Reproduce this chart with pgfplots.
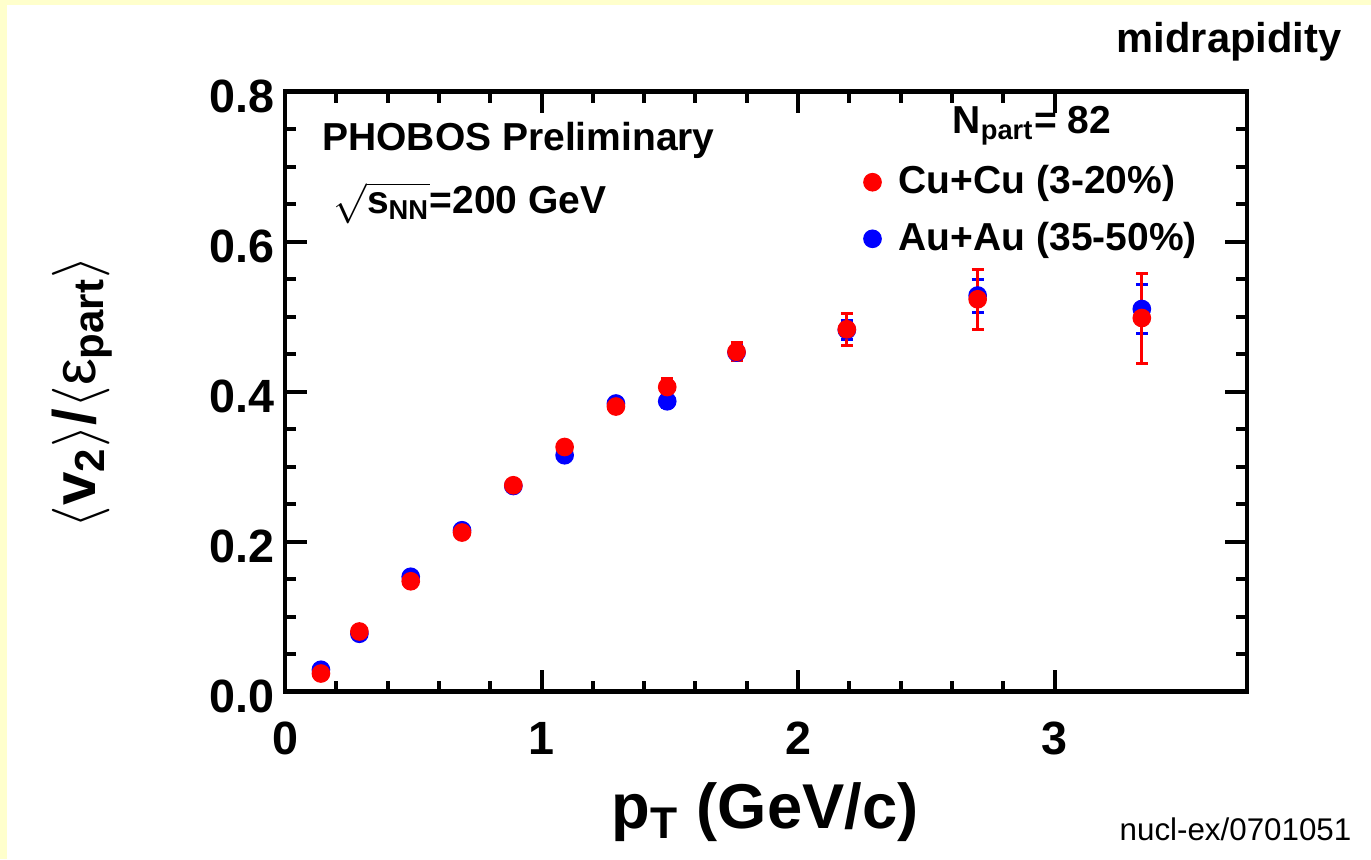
\documentclass[border=0pt]{standalone}
\usepackage{pgfplots}
\pgfplotsset{compat=1.18}
\usepackage{fontspec}
\setmainfont{Liberation Sans}
\definecolor{bgyellow}{RGB}{255,255,204}
\definecolor{pred}{RGB}{255,0,0}
\definecolor{pblue}{RGB}{0,0,255}
\begin{document}
\begin{tikzpicture}
\useasboundingbox (0,0) rectangle (411.3pt,257.7pt);
\fill[bgyellow] (0,0) rectangle (411.3pt,257.7pt);
\fill[white] (2.1pt,0) rectangle (411.3pt,256.2pt);
\begin{axis}[
  at={(85.5pt,50.25pt)}, anchor=south west,
  scale only axis, width=288.6pt, height=180pt,
  xmin=0, xmax=3.75, ymin=0, ymax=0.8,
  xtick={0,1,2,3}, xticklabels={0,1,2,3},
  ytick={0,0.2,0.4,0.6,0.8},
  yticklabel style={/pgf/number format/fixed, /pgf/number format/fixed zerofill, /pgf/number format/precision=1, inner sep=0pt, xshift=-3pt, yshift=-1.5pt},
  xticklabel style={inner sep=0pt, yshift=-9pt},
  /pgf/number format/assume math mode=true,
  ticklabel style={font=\bfseries\fontsize{14}{16}\selectfont},
  minor x tick num=4, minor y tick num=3,
  tick align=inside, tick pos=both,
  major tick length=6.5pt, minor tick length=3.3pt,
  every tick/.style={black, line width=1.2pt},
  axis line style={line width=1.4pt},
  clip=false,
  reverse legend,
  legend cell align=left,
  legend style={at={(0.601,0.8017)}, anchor=west, draw=none, fill=none, inner sep=0pt,
    font=\bfseries\fontsize{11.7}{13}\selectfont, row sep=7pt, column sep=5.3pt,
    nodes={inner sep=0pt}},
  legend image code/.code={\draw[mark repeat=2,mark phase=2,#1] plot coordinates {(-2pt,0pt) (0pt,0pt) (2pt,0pt)};},
]
\addplot[only marks, mark=*, mark size=2.6pt, color=pblue,
  error bars/.cd, y dir=both, y explicit,
  error bar style={line width=0.9pt}, error mark options={rotate=90, line width=0.9pt, mark size=1.8pt}]
  coordinates {
  (0.14,0.029) +- (0,0.004)
  (0.29,0.077) +- (0,0.004)
  (0.49,0.153) +- (0,0.005)
  (0.69,0.215) +- (0,0.005)
  (0.89,0.274) +- (0,0.006)
  (1.09,0.315) +- (0,0.006)
  (1.29,0.384) +- (0,0.007)
  (1.49,0.387) +- (0,0.008)
  (1.76,0.452) +- (0,0.010)
  (2.19,0.482) +- (0,0.013)
  (2.70,0.528) +- (0,0.022)
  (3.34,0.510) +- (0,0.033)
  };
\addlegendentry{Au+Au (35-50\%)}
\addplot[only marks, mark=*, mark size=2.6pt, color=pred,
  error bars/.cd, y dir=both, y explicit,
  error bar style={line width=0.9pt}, error mark options={rotate=90, line width=0.9pt, mark size=1.8pt}]
  coordinates {
  (0.14,0.024) +- (0,0.004)
  (0.29,0.080) +- (0,0.004)
  (0.49,0.147) +- (0,0.005)
  (0.69,0.212) +- (0,0.005)
  (0.89,0.275) +- (0,0.006)
  (1.09,0.326) +- (0,0.007)
  (1.29,0.380) +- (0,0.008)
  (1.49,0.406) +- (0,0.012)
  (1.76,0.453) +- (0,0.012)
  (2.19,0.483) +- (0,0.021)
  (2.70,0.523) +- (0,0.040)
  (3.34,0.498) +- (0,0.060)
  };
\addlegendentry{Cu+Cu (3-20\%)}
\end{axis}
\node[anchor=base east, inner sep=0pt, font=\bfseries\fontsize{12.5}{14}\selectfont] at (402.6pt,241.8pt) {midrapidity};
\node[anchor=base east, inner sep=0pt, font=\fontsize{9.4}{11}\selectfont] at (405.6pt,5.7pt) {nucl-ex/0701051};
\node[anchor=base west, inner sep=0pt, font=\bfseries\fontsize{11.7}{13}\selectfont] at (96.5pt,212.7pt) {PHOBOS Preliminary};
\node[anchor=base west, inner sep=0pt, font=\bfseries\fontsize{11.7}{13}\selectfont] at (99.9pt,193.8pt) {$\sqrt{\mbox{\bfseries s\textsubscript{NN}}}$=200 GeV};
\node[anchor=base west, inner sep=0pt, font=\bfseries\fontsize{11.7}{13}\selectfont] at (285.6pt,217.8pt) {N\textsubscript{part}= 82};
\node[anchor=base, inner sep=0pt, font=\bfseries\fontsize{19}{21}\selectfont] at (229.5pt,9.3pt) {p\textsubscript{T} (GeV/c)};
\node[rotate=90, anchor=base, inner sep=0pt, font=\fontsize{18}{20}\selectfont] at (28.5pt,140.1pt) {$\langle$\textbf{v}\textsubscript{\textbf{2}}$\rangle$\textbf{/}$\langle$ε\textsubscript{\textbf{part}}$\rangle$};
\end{tikzpicture}
\end{document}
